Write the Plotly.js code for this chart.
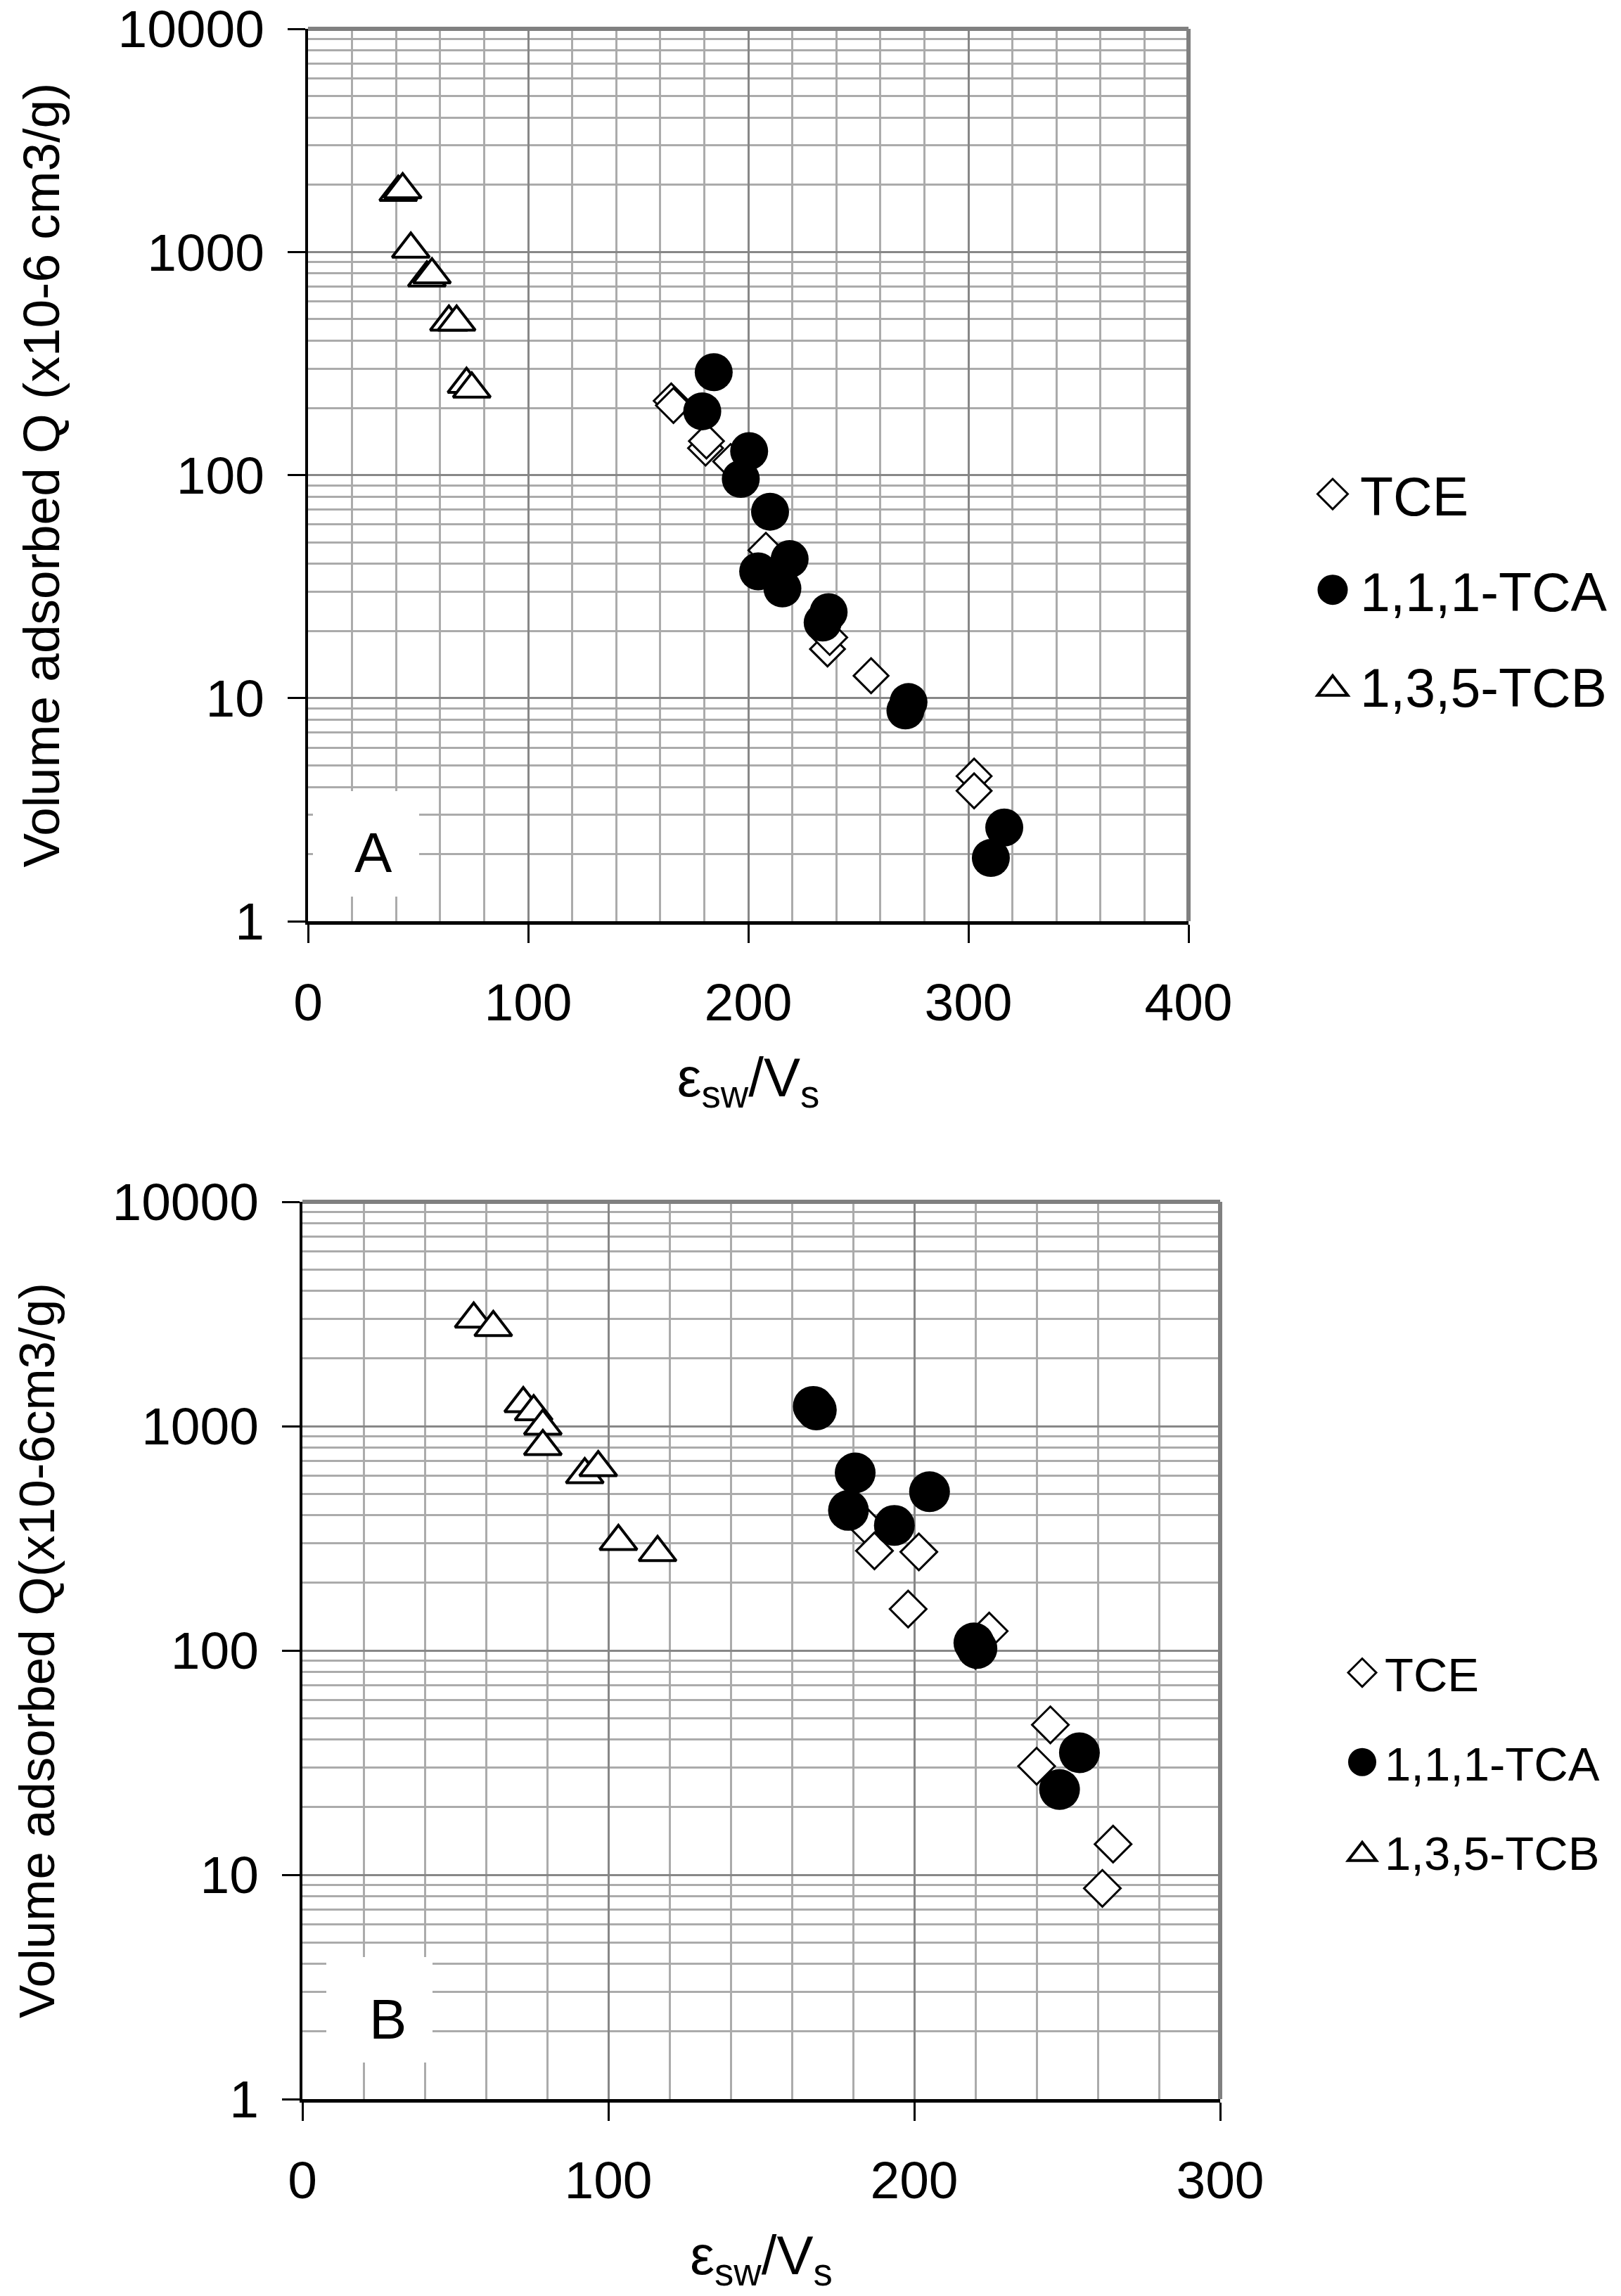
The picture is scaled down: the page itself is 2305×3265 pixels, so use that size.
<!DOCTYPE html>
<html>
<head>
<meta charset="utf-8">
<script src="https://cdn.plot.ly/plotly-3.0.1.min.js"></script>
<style>
html,body{margin:0;padding:0;background:#fff;}
#chart{width:2305px;height:3265px;}
</style>
</head>
<body>
<div id="chart"></div>
<script>
// ---------- Data ----------
// Panel A
const tceAx = [165, 166, 180.6, 181, 192, 208, 236, 237, 255.8, 302.6, 302.6];
const tceAy = [215, 205, 132, 142, 115, 46, 16.6, 18.7, 12.6, 4.47, 3.84];
const tcaAx = [184.3, 179.1, 200.4, 196.6, 209.9, 218.8, 204.5, 215.5, 236.5, 233.8, 272.8, 271.4, 316.3, 310.2];
const tcaAy = [289, 193, 128, 96, 68.5, 42, 37, 31, 24.3, 21.8, 9.6, 8.8, 2.63, 1.92];
const tcbAx = [41, 43, 46.7, 54, 56.3, 64, 67.5, 72, 74.4];
const tcbAy = [1850, 1900, 1030, 765, 790, 485, 485, 255, 243];
// Panel B
const tceBx = [184.5, 187, 198, 201.5, 220, 224.5, 240, 244.5, 261.5, 265];
const tceBy = [357, 278, 153, 275, 100, 122, 30.5, 46.6, 8.7, 13.7];
const tcaBx = [167, 168, 178.5, 180.7, 193.5, 205, 219.5, 220.5, 247.5, 254];
const tcaBy = [1225, 1180, 421, 619, 361, 510, 108, 102, 24, 35];
const tcbBx = [56, 62.4, 72.2, 75.6, 78.6, 78.6, 92.3, 96.7, 103.3, 116.1];
const tcbBy = [3000, 2750, 1260, 1160, 1000, 811, 608, 653, 306, 273];

const seriesNames = ['TCE', '1,1,1-TCA', '1,3,5-TCB'];
const xTickVals = [0, 100, 200, 300, 400];
const yTitleA = 'Volume adsorbed Q (x10-6 cm3/g)';
const yTitleB = 'Volume adsorbed Q(x10-6cm3/g)';
const xTitle = 'ε<sub>sw</sub>/V<sub>s</sub>';
const panelLabels = ['A', 'B'];

// ---------- Styles ----------
const FONT = 'Liberation Sans, Arial, sans-serif';
const W = 2305, H = 3265;
const pA = {l: 438, r: 1690, t: 41, b: 1310};
const pB = {l: 430, r: 1735, t: 1709, b: 2985};
const LEG_A_FONT = 77, LEG_B_FONT = 67;

function diamond(size){ return {symbol:'diamond', size:size, color:'#ffffff', line:{color:'#000000', width:3}}; }
function circle(size){ return {symbol:'circle', size:size, color:'#000000', line:{color:'#000000', width:0}}; }
function tri(size){ return {symbol:'triangle-up', size:size, color:'#ffffff', line:{color:'#000000', width:4}}; }

const data = [
  {x:tceAx, y:tceAy, name:seriesNames[0], type:'scatter', mode:'markers', marker:diamond(38), xaxis:'x', yaxis:'y', legend:'legend', legendgroup:'a1'},
  {x:tcaAx, y:tcaAy, name:seriesNames[1], type:'scatter', mode:'markers', marker:circle(54), xaxis:'x', yaxis:'y', legend:'legend', legendgroup:'a2'},
  {x:tcbAx, y:tcbAy, name:seriesNames[2], type:'scatter', mode:'markers', marker:tri(46), xaxis:'x', yaxis:'y', legend:'legend', legendgroup:'a3'},
  {x:tceBx, y:tceBy, name:seriesNames[0], type:'scatter', mode:'markers', marker:diamond(40), xaxis:'x2', yaxis:'y2', legend:'legend2', legendgroup:'b1'},
  {x:tcaBx, y:tcaBy, name:seriesNames[1], type:'scatter', mode:'markers', marker:circle(58), xaxis:'x2', yaxis:'y2', legend:'legend2', legendgroup:'b2'},
  {x:tcbBx, y:tcbBy, name:seriesNames[2], type:'scatter', mode:'markers', marker:tri(46), xaxis:'x2', yaxis:'y2', legend:'legend2', legendgroup:'b3'}
];

function xAxis(p, range, anchor){
  return {
    domain:[p.l/W, p.r/W], range:range, anchor:anchor,
    tickmode:'array', tickvals:xTickVals.filter(v=>v<=range[1]),
    showgrid:true, gridcolor:'#878787', gridwidth:3,
    minor:{dtick:20, showgrid:true, gridcolor:'#ababab', gridwidth:3, ticks:''},
    zeroline:false, showline:true, linecolor:'#000000', linewidth:5,
    ticks:'outside', ticklen:26, tickwidth:3, tickcolor:'#000000',
    tickfont:{family:FONT, size:75, color:'#000000'}, ticklabelstandoff:20,
    ticklabeloverflow:'allow',
    title:{text:xTitle, font:{family:FONT, size:78, color:'#000000'}, standoff:40},
    automargin:false, fixedrange:true
  };
}
function yAxis(p, title, anchor, tsize){
  return {
    domain:[1-p.b/H, 1-p.t/H], type:'log', range:[0,4], anchor:anchor,
    tickmode:'linear', tick0:0, dtick:1, tickformat:'d',
    showgrid:true, gridcolor:'#878787', gridwidth:3,
    minor:{dtick:'D1', showgrid:true, gridcolor:'#ababab', gridwidth:3, ticks:''},
    zeroline:false, showline:true, linecolor:'#000000', linewidth:4,
    ticks:'outside', ticklen:25, tickwidth:3, tickcolor:'#000000',
    tickfont:{family:FONT, size:75, color:'#000000'}, ticklabelstandoff:18,
    ticklabeloverflow:'allow',
    title:{text:title, font:{family:FONT, size:tsize, color:'#000000'}, standoff:60},
    automargin:false, fixedrange:true
  };
}

function border(xr, yr){
  return [
    {type:'line', xref:xr+' domain', yref:yr+' domain', x0:0, x1:1, y0:1, y1:1, line:{color:'#808080', width:6}, layer:'above'},
    {type:'line', xref:xr+' domain', yref:yr+' domain', x0:1, x1:1, y0:0, y1:1, line:{color:'#808080', width:6}, layer:'above'}
  ];
}
function boxShape(xr, yr, p, box){
  const pw = p.r - p.l, ph = p.b - p.t;
  return {type:'rect', xref:xr+' domain', yref:yr+' domain',
    x0:(box[0]-p.l)/pw, x1:(box[2]-p.l)/pw, y0:(p.b-box[3])/ph, y1:(p.b-box[1])/ph,
    fillcolor:'#ffffff', line:{width:0}, layer:'above'};
}
function letter(xr, yr, p, c, text){
  const pw = p.r - p.l, ph = p.b - p.t;
  return {xref:xr+' domain', yref:yr+' domain', x:(c[0]-p.l)/pw, y:(p.b-c[1])/ph, xanchor:'center', yanchor:'middle',
    text:text, showarrow:false, font:{family:FONT, size:80, color:'#000000'}};
}

const layout = {
  width:W, height:H, margin:{l:0, r:0, t:0, b:0},
  paper_bgcolor:'#ffffff', plot_bgcolor:'#ffffff',
  font:{family:FONT, color:'#000000'},
  xaxis: xAxis(pA, [0,400], 'y'),
  yaxis: yAxis(pA, yTitleA, 'x', 73),
  xaxis2: xAxis(pB, [0,300], 'y2'),
  yaxis2: yAxis(pB, yTitleB, 'x2', 71),
  legend:{x:1894/W, y:1-839/H, xanchor:'left', yanchor:'middle', font:{family:FONT, size:LEG_A_FONT, color:'#000000'},
          bgcolor:'rgba(0,0,0,0)', traceorder:'grouped', tracegroupgap:33, itemwidth:30},
  legend2:{x:1929/W, y:1-2506/H, xanchor:'left', yanchor:'middle', font:{family:FONT, size:LEG_B_FONT, color:'#000000'},
          bgcolor:'rgba(0,0,0,0)', traceorder:'grouped', tracegroupgap:37, itemwidth:30},
  shapes: border('x','y').concat(border('x2','y2')).concat([
    boxShape('x','y',pA,[445,1125,596,1275]),
    boxShape('x2','y2',pB,[464,2783,615,2933])
  ]),
  annotations: [letter('x','y',pA,[531,1212],panelLabels[0]), letter('x2','y2',pB,[551,2871.5],panelLabels[1])],
  showlegend:true
};

const gd = document.getElementById('chart');

// enlarge legend symbols (plotly caps legend markers at 16px)
const symSizes = {
  A: {gap:39, sizes:{'TCE':[43/20.8,3,0], '1,1,1-TCA':[43/16,0,0], '1,3,5-TCB':[43/18.48,4,1]}},
  B: {gap:32, sizes:{'TCE':[40/20.8,3,0], '1,1,1-TCA':[40/16,0,0], '1,3,5-TCB':[40/18.48,4,1]}}
};
const TEXT_SEL = 'text.legendtext, text.legend2text';
function fixLegends(){
  gd.querySelectorAll('path.scatterpts').forEach(function(p){
    let tr = p.parentNode, t = null;
    while(tr && tr !== gd){ t = tr.querySelector(TEXT_SEL); if(t) break; tr = tr.parentNode; }
    if(!t) return;
    if(tr.querySelectorAll(TEXT_SEL).length !== 1) return;
    const fs = parseFloat(t.style.fontSize || window.getComputedStyle(t).fontSize) || 0;
    const cfg = (fs > (LEG_A_FONT + LEG_B_FONT) / 2) ? symSizes.A : symSizes.B;
    const c = cfg.sizes[t.textContent];
    if(!c) return;
    const tx = parseFloat(t.getAttribute('x')) || 40;
    const s = c[0];
    const dy = c[2] ? 2*s : 0;
    const tf = 'translate(' + (tx - cfg.gap) + ',' + dy + ') scale(' + s + ')';
    if(p.getAttribute('transform') !== tf) p.setAttribute('transform', tf);
    p.style.vectorEffect = 'non-scaling-stroke';
    if(c[1]) p.style.strokeWidth = c[1] + 'px';
    let n = tr;
    while(n && n !== gd){ if(n.getAttribute && n.getAttribute('clip-path')) n.removeAttribute('clip-path'); n = n.parentNode; }
  });
  gd.querySelectorAll('.scrollbox[clip-path], g.legend [clip-path], g.legend2 [clip-path]').forEach(function(e){ e.removeAttribute('clip-path'); });
}

Plotly.newPlot(gd, data, layout, {staticPlot:true, displayModeBar:false}).then(function(){
  fixLegends();
  setTimeout(fixLegends, 50);
  setTimeout(fixLegends, 300);
});
</script>
</body>
</html>
